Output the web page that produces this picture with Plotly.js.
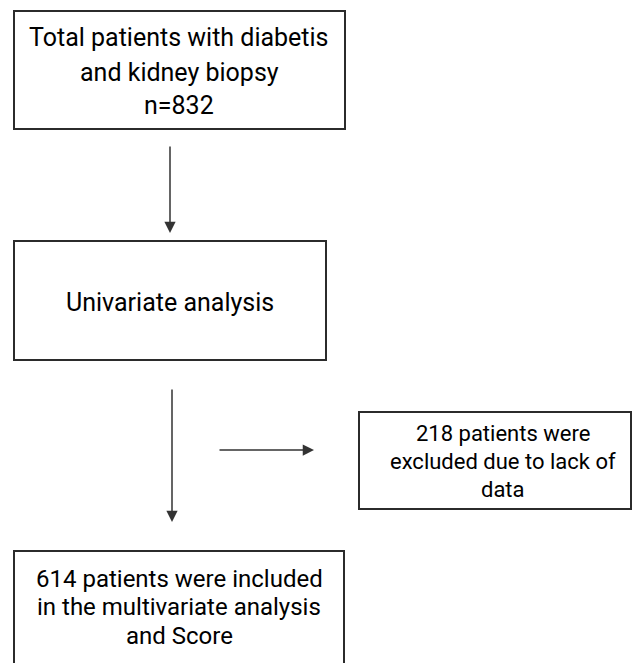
<!DOCTYPE html>
<html>
<head>
<meta charset="utf-8">
<script src="https://cdn.plot.ly/plotly-3.0.1.min.js"></script>
<style>html,body{margin:0;padding:0;background:#fff;}#chart{width:632px;height:663px;}</style>
</head>
<body>
<div id="chart"></div>
<script>
// Flowchart content: one list of text lines per box
const box1Lines = ["Total patients with diabetis", "and kidney biopsy", "n=832"];
const box2Lines = ["Univariate analysis"];
const box3Lines = ["218 patients were", "excluded due to lack of", "data"];
const box4Lines = ["614 patients were included", "in the multivariate analysis", "and Score"];
const patientCounts = [832, 218, 614];

// Layout geometry (pixel-space axes)
const boxes = [
  {lines: box1Lines, x0: 14, x1: 345, y0: 11, y1: 129, cx: 179, ly: [37, 72, 105], fs: 25},
  {lines: box2Lines, x0: 14, x1: 326, y0: 241, y1: 360, cx: 170, ly: [302], fs: 25},
  {lines: box3Lines, x0: 359, x1: 631, y0: 412, y1: 509, cx: 503, ly: [433, 461, 489], fs: 22},
  {lines: box4Lines, x0: 14, x1: 344, y0: 551, y1: 680, cx: 179, ly: [578.5, 607, 635.5], fs: 24}
];
const arrows = [
  {x0: 170, y0: 145, x1: 170, y1: 233},
  {x0: 172, y0: 388, x1: 172, y1: 522},
  {x0: 218, y0: 450, x1: 314, y1: 450}
];

const shapes = boxes.map(b => ({
  type: 'rect', xref: 'x', yref: 'y',
  x0: b.x0, x1: b.x1, y0: b.y0, y1: b.y1,
  line: {color: '#2b2b2b', width: 2}, fillcolor: 'rgba(0,0,0,0)'
}));

const annotations = [];
boxes.forEach(b => {
  b.lines.forEach((t, j) => {
    annotations.push({
      x: b.cx, y: b.ly[j], xref: 'x', yref: 'y',
      text: t, showarrow: false,
      font: {family: 'Roboto, sans-serif', size: b.fs, color: '#000'},
      align: 'center', xanchor: 'center', yanchor: 'middle',
      borderpad: 0
    });
  });
});
arrows.forEach(a => {
  annotations.push({
    x: a.x1, y: a.y1, ax: a.x0, ay: a.y0,
    xref: 'x', yref: 'y', axref: 'x', ayref: 'y',
    text: '', showarrow: true, arrowhead: 2, arrowsize: 1.5,
    arrowwidth: 1.5, arrowcolor: '#333', standoff: 0, startstandoff: 0
  });
});

Plotly.newPlot('chart', [{x: [], y: [], type: 'scatter', hoverinfo: 'skip'}], {
  width: 632, height: 663,
  margin: {l: 0, r: 0, t: 0, b: 0},
  paper_bgcolor: '#fff', plot_bgcolor: '#fff',
  showlegend: false,
  xaxis: {range: [0, 632], visible: false, fixedrange: true},
  yaxis: {range: [663, 0], visible: false, fixedrange: true},
  shapes: shapes,
  annotations: annotations
}, {staticPlot: true, displayModeBar: false});
</script>
</body>
</html>
